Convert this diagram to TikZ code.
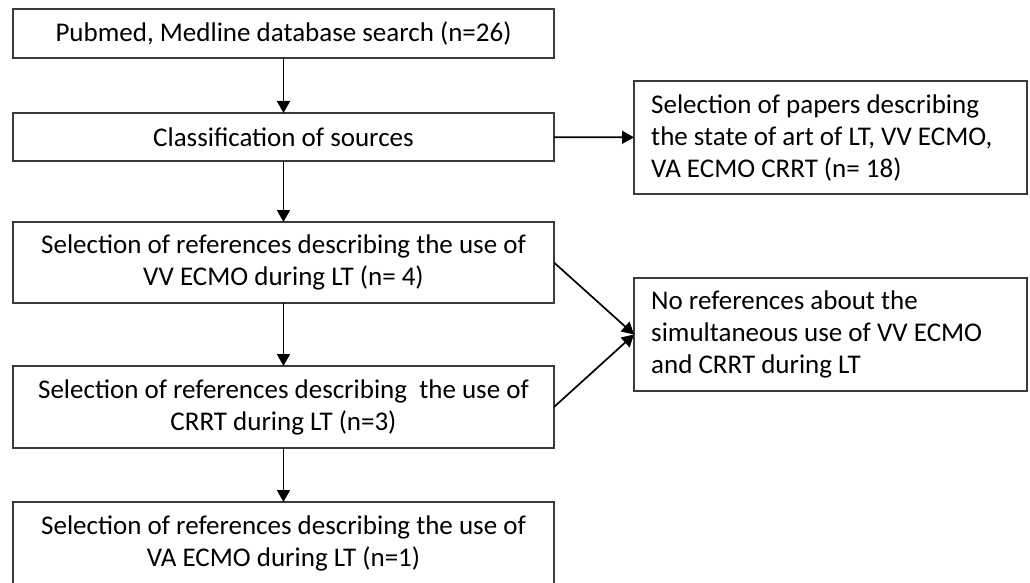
\documentclass[tikz,border=0pt]{standalone}
\usepackage{fontspec}
\setmainfont{Carlito}
\usetikzlibrary{arrows.meta}
\definecolor{boxline}{HTML}{3A3A3A}
\tikzset{
  box/.style={draw=boxline, line width=1.6pt, rectangle, inner sep=0pt, outer sep=0pt,
    minimum width=541pt, font=\fontsize{27}{32}\selectfont, align=center},
  sidebox/.style={draw=boxline, line width=1.6pt, rectangle, inner sep=0pt, outer sep=0pt,
    minimum width=393pt, minimum height=113pt},
  sidetext/.style={inner sep=0pt, anchor=west, font=\fontsize{27}{32}\selectfont, align=left},
  conn/.style={draw=black, line width=1.7pt, -{Triangle[length=12pt,width=13pt]}}
}
\begin{document}
\begin{tikzpicture}[x=1pt,y=-1pt]
\useasboundingbox (0,0) rectangle (1030,583);
\node[box, minimum height=49pt] (b1) at (283.5,33.5) {Pubmed, Medline database search (n=26)};
\node[box, minimum height=48pt] (b2) at (283.5,137) {Classification of sources};
\node[sidebox] (r1) at (830.5,137.5) {};
\node[sidetext] (t1) at ([xshift=17pt]r1.west) {Selection of papers describing\\the state of art of LT, VV ECMO,\\VA ECMO CRRT (n= 18)};
\node[box, minimum height=81pt] (b3) at (283.5,262.5) {Selection of references describing the use of\\VV ECMO during LT (n= 4)};
\node[sidebox] (r2) at (830.5,334.5) {};
\node[sidetext] (t2) at ([xshift=17pt]r2.west) {No references about the\\simultaneous use of VV ECMO\\and CRRT during LT};
\node[box, minimum height=82pt] (b4) at (283.5,407) {Selection of references describing\ \ the use of\\CRRT during LT (n=3)};
\node[box, minimum height=83pt] (b5) at (283.5,543.5) {Selection of references describing the use of\\VA ECMO during LT (n=1)};
\draw[conn] (b1) -- (b2);
\draw[conn] (b2) -- (r1);
\draw[conn] (b2) -- (b3);
\draw[conn] (b3) -- (b4);
\draw[conn] (b4) -- (b5);
\draw[conn] (b3.east) -- (r2.west);
\draw[conn] (b4.east) -- (r2.west);
\end{tikzpicture}
\end{document}
